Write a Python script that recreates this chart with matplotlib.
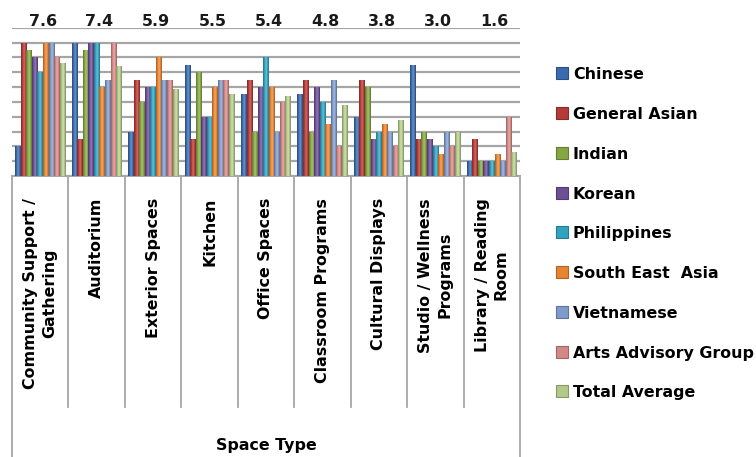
import matplotlib
matplotlib.use("Agg")
import matplotlib.pyplot as plt
from matplotlib.patches import Rectangle
from matplotlib.transforms import blended_transform_factory
from matplotlib.colors import to_rgb
import numpy as np

categories = ["Community Support /\nGathering", "Auditorium", "Exterior Spaces", "Kitchen",
              "Office Spaces", "Classroom Programs", "Cultural Displays",
              "Studio / Wellness\nPrograms", "Library / Reading\nRoom"]
series_names = ["Chinese", "General Asian", "Indian", "Korean", "Philippines",
                "South East  Asia", "Vietnamese", "Arts Advisory Group", "Total Average"]

chinese      = [2.0, 9.0, 3.0, 7.5, 5.5, 5.5, 4.0, 7.5, 1.0]
general_asian = [9.0, 2.5, 6.5, 2.5, 6.5, 6.5, 6.5, 2.5, 2.5]
indian       = [8.5, 8.5, 5.0, 7.0, 3.0, 3.0, 6.0, 3.0, 1.0]
korean       = [8.0, 9.0, 6.0, 4.0, 6.0, 6.0, 2.5, 2.5, 1.0]
philippines  = [7.0, 9.0, 6.0, 4.0, 8.0, 5.0, 3.0, 2.0, 1.0]
south_east_asia = [9.0, 6.0, 8.0, 6.0, 6.0, 3.5, 3.5, 1.5, 1.5]
vietnamese   = [9.0, 6.5, 6.5, 6.5, 3.0, 6.5, 3.0, 3.0, 1.0]
arts_advisory = [8.0, 9.0, 6.5, 6.5, 5.0, 2.0, 2.0, 2.0, 4.0]
total_average = [7.6, 7.4, 5.9, 5.5, 5.4, 4.8, 3.8, 3.0, 1.6]

series_values = [chinese, general_asian, indian, korean, philippines,
                 south_east_asia, vietnamese, arts_advisory, total_average]
colors = ["#3A6BAF", "#B53B37", "#84A643", "#6D4F96", "#33A2BF",
          "#E8832F", "#7E9BCB", "#D48886", "#B3C98A"]

W, H = 756, 457
fig = plt.figure(figsize=(W / 100, H / 100), dpi=100)
fig.patch.set_facecolor("white")

def fx(px):
    return px / W

def fy(py):
    return 1 - py / H

def gradient_row(c, n=24):
    base = np.array(to_rgb(c))
    t = np.linspace(0, 1, n)
    k = np.sin(np.pi * t) ** 0.8
    shade = 0.68 + 0.37 * k
    col = np.clip(base[None, :] * shade[:, None], 0, 1)
    hi = 0.22 * np.exp(-((t - 0.55) / 0.18) ** 2)
    col = col * (1 - hi[:, None]) + hi[:, None]
    return col[None, :, :]

FONT = "DejaVu Sans"
FS = 11.4
GRID = "#A6A6A6"

ax = fig.add_axes([fx(12), fy(176), fx(520) - fx(12), fy(27.7) - fy(176)])
ax.yaxis.grid(True, color=GRID, linewidth=1.6, zorder=0)
ax.set_axisbelow(True)
ax.tick_params(left=False, labelleft=False, bottom=False, labelbottom=False)
for s in ["top", "left", "right"]:
    ax.spines[s].set_visible(False)
ax.spines["bottom"].set_color(GRID)
ax.spines["bottom"].set_linewidth(1.4)

n = len(series_values)
group = 0.886
w = group / n
x = np.arange(len(categories))
for j, (vals, c) in enumerate(zip(series_values, colors)):
    bars = ax.bar(x + (j - (n - 1) / 2) * w, vals, width=w, color=c,
                  edgecolor="none", linewidth=0, zorder=3)
    grad = gradient_row(c)
    for b in bars:
        x0, y0 = b.get_x(), b.get_y()
        im = ax.imshow(grad, extent=[x0, x0 + b.get_width(), y0, y0 + b.get_height()],
                       aspect="auto", interpolation="bilinear", zorder=4)
        im.set_clip_path(b)

ax.set_xlim(-0.5, len(categories) - 0.5)
ax.set_ylim(0, 10)
ax.set_yticks(np.arange(0, 11, 1))

trans = blended_transform_factory(ax.transData, fig.transFigure)

# table-like separators under the axis
for k in range(len(categories) + 1):
    xx = k - 0.5
    ybot = 0 if k in (0, len(categories)) else fy(407)
    ax.plot([xx, xx], [fy(176), ybot], transform=trans, color=GRID,
            linewidth=1.3, clip_on=False, zorder=1)

for i, lab in enumerate(categories):
    ax.text(i, fy(198), lab, transform=trans, rotation=90, ha="center", va="top",
            multialignment="center", fontsize=FS, fontweight="bold",
            family=FONT, linespacing=1.35, color="black")

for i, v in enumerate(total_average):
    ax.text(i + 0.05, fy(26), f"{v:.1f}", transform=trans, ha="center", va="baseline",
            fontsize=FS, fontweight="bold", family=FONT, color="#1a1a1a")

fig.text(fx(266), fy(450), "Space Type", ha="center", va="baseline",
         fontsize=FS, fontweight="bold", family=FONT)

# legend
for i, (name, c) in enumerate(zip(series_names, colors)):
    base = 79.3 + i * 39.75
    fig.patches.append(Rectangle((fx(555.5), fy(base)), 12 / W, 12 / H,
                                 transform=fig.transFigure, facecolor=c,
                                 edgecolor=np.clip(np.array(to_rgb(c)) * 0.75, 0, 1),
                                 linewidth=0.8))
    fig.text(fx(573), fy(base), name, ha="left", va="baseline",
             fontsize=FS, fontweight="bold", family=FONT)

fig.savefig("out.png", dpi=100)
